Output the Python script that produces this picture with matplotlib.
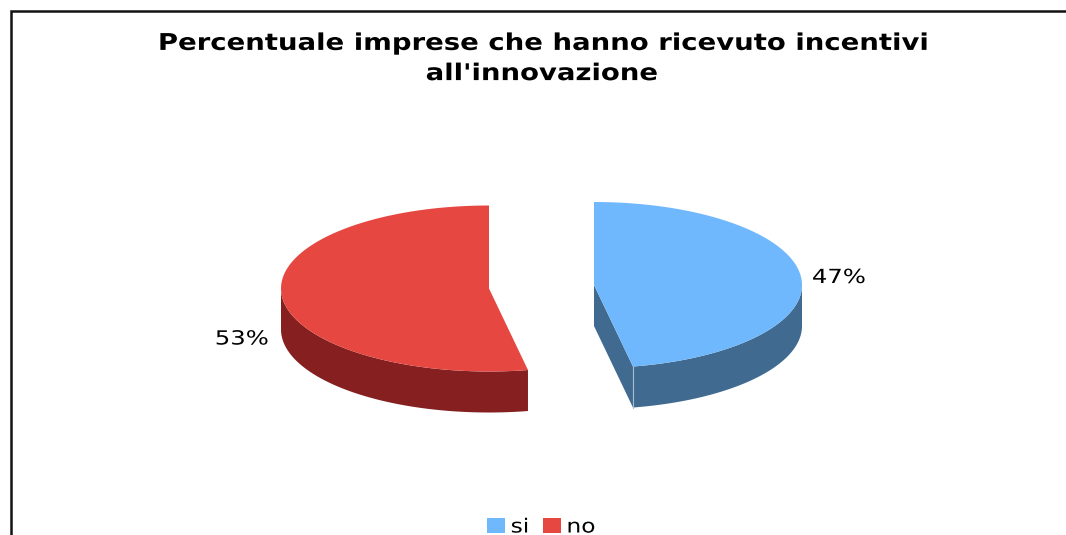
import numpy as np
import matplotlib
matplotlib.use('Agg')
import matplotlib.pyplot as plt
from matplotlib.patches import Polygon, Rectangle
from matplotlib.patheffects import AbstractPathEffect
from matplotlib.transforms import Affine2D

title = "Percentuale imprese che hanno ricevuto incentivi\nall'innovazione"
categories = ['si', 'no']
percent = [47, 53]

top_colors = ['#6FB8FD', '#E64741']
side_colors = ['#406A90', '#851F20']

W, H = 1066, 535
RX, RY, DEPTH = 208, 83, 41
centers = [(594, 285), (489, 288.5)]  # the slices are pulled apart


class StretchX(AbstractPathEffect):
    # widens glyphs around a pixel column, the font has no expanded face
    def __init__(self, cx, sx):
        super().__init__()
        self.cx = cx
        self.sx = sx

    def draw_path(self, renderer, gc, tpath, affine, rgbFace=None):
        stretch = Affine2D().translate(-self.cx, 0).scale(self.sx, 1).translate(self.cx, 0)
        renderer.draw_path(gc, tpath, affine + stretch, rgbFace)


def wide_text(x, y, s, size, sx, **kw):
    # pixel column on the figure is the same as x since the axes fill it
    ax.text(x, y, s, fontsize=size, ha='center', va='center', color='black',
            path_effects=[StretchX(x, sx)], **kw)


def rim(center, a, b, n=120):
    t = np.radians(np.linspace(a, b, n))
    return np.column_stack([center[0] + RX * np.sin(t), center[1] - RY * np.cos(t)])


fig = plt.figure(figsize=(W / 100, H / 100), dpi=100)
ax = fig.add_axes([0, 0, 1, 1])
ax.set_xlim(0, W)
ax.set_ylim(H, 0)
ax.axis('off')

# frame of the chart, runs off the right and bottom edges
ax.plot([10.5, 10.5, W + 5], [H + 5, 11, 11], color='#111111', lw=1.8, solid_joinstyle='miter')

start = 0
for i, value in enumerate(percent):
    end = start + value * 3.6
    c = centers[i]
    arc = rim(c, start, end)

    # outer wall, only the part facing the viewer
    front = rim(c, max(start, 90), min(end, 270))
    wall = np.vstack([front, front[::-1] + [0, DEPTH]])
    ax.add_patch(Polygon(wall, closed=True, fc=side_colors[i], ec='none', zorder=2))

    # cut face of the slice that looks to the left
    if i == 0:
        e = arc[-1]
        cut = [c, e, e + [0, DEPTH], (c[0], c[1] + DEPTH)]
        ax.add_patch(Polygon(cut, closed=True, fc=side_colors[i], ec='none', zorder=2))
        ax.plot([e[0], e[0]], [e[1], e[1] + DEPTH], color='#A9BCCD', lw=0.8, zorder=3)

    ax.add_patch(Polygon(np.vstack([c, arc]), closed=True, fc=top_colors[i], ec='none', zorder=4))
    start = end

wide_text(541, 58.5, title, 16.6, 1.193, fontweight='bold', linespacing=1.4)

wide_text(839, 277.5, '%d%%' % percent[0], 14, 1.25)
wide_text(242, 339, '%d%%' % percent[1], 14, 1.25)

# legend row along the bottom edge
for swatch_x, label_x, cat, col in zip([487, 543], [520, 581], categories, top_colors):
    ax.add_patch(Rectangle((swatch_x, 518), 18, 15, fc=col, ec='none'))
    wide_text(label_x, 527, cat, 14, 1.2)

fig.savefig('out.png', dpi=100)
